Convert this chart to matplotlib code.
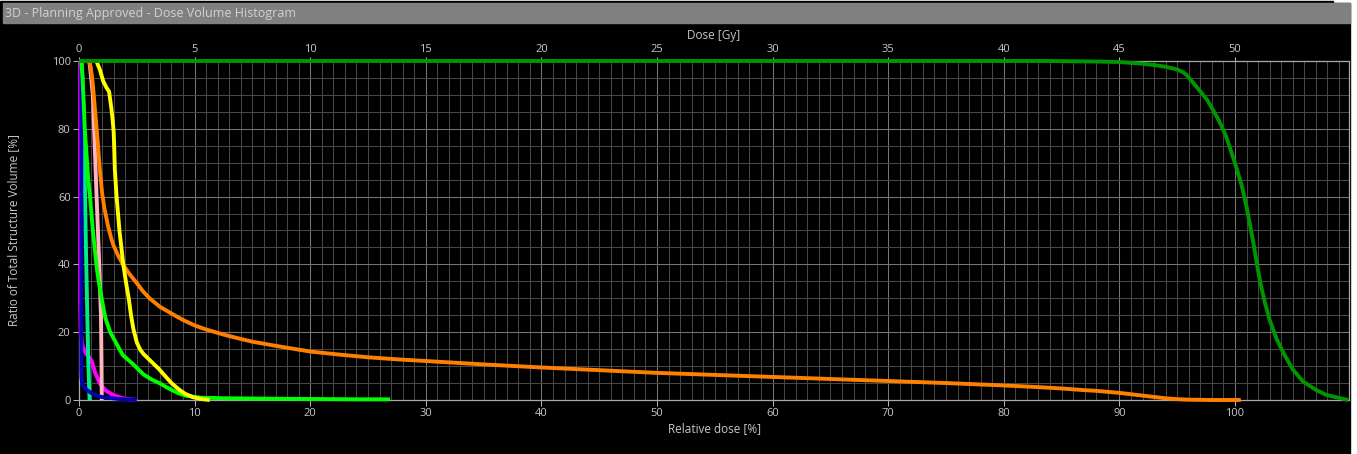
#!/usr/bin/env python3

import matplotlib as mpl
import matplotlib.pyplot as plt
from matplotlib.patches import Rectangle
from matplotlib.ticker import MultipleLocator

mpl.rcParams['font.family'] = ['Open Sans', 'DejaVu Sans']

W, H = 1357, 454

# relative dose [%] / volume [%] per structure
ptv_dose = [0, 20, 40, 60, 84, 88, 90, 92, 93, 94, 95, 95.5, 95.8, 96.4, 97, 97.6, 98.1,
            98.6, 99.2, 99.6, 100, 100.3, 100.6, 101, 101.3, 101.6, 101.9, 102.2, 102.6,
            103.0, 103.6, 104.2, 105, 105.9, 107, 107.9, 109, 109.8]
ptv_vol = [100, 100, 100, 100, 100, 99.85, 99.7, 99.2, 98.8, 98.3, 97.5, 96.7, 95.9, 93.5,
           91, 88.5, 85.5, 82.5, 78, 74, 69.8, 66.5, 63, 57, 51.5, 46.2, 40, 34.4, 28.5,
           23.6, 18, 13.8, 9, 5.4, 3, 1.5, 0.6, 0]

orange_dose = [0.8, 0.9, 1.0, 1.1, 1.2, 1.3, 1.4, 1.5, 1.6, 1.7, 1.8, 1.9, 2.0, 2.2, 2.5,
               2.8, 3.0, 3.4, 3.8, 4.4, 5.0, 5.5, 6.1, 7.0, 8.0, 9.0, 10, 11, 12.5, 14, 15,
               17.5, 20, 22.5, 25, 27.5, 30, 35, 40, 45, 50, 55, 60, 65, 70, 75, 80, 83,
               85, 87, 88, 89, 90, 91, 92, 93, 94, 95, 96, 98, 100.5]
orange_vol = [100, 99.5, 98.5, 96, 93, 89, 85, 81, 77, 72.5, 68, 64.5, 61, 56.5, 51.5,
              47.5, 45.5, 42.5, 40, 37, 34.5, 32.2, 30, 27.5, 25.5, 23.6, 22, 20.8, 19.3,
              18, 17.2, 15.7, 14.3, 13.4, 12.6, 12, 11.5, 10.5, 9.6, 8.8, 8, 7.4, 6.8,
              6.2, 5.6, 5.0, 4.3, 3.8, 3.4, 2.9, 2.7, 2.4, 2.1, 1.7, 1.3, 0.9, 0.5, 0.25,
              0.1, 0, 0]

yellow_dose = [1.5, 1.8, 2.1, 2.4, 2.6, 2.8, 2.9, 3.0, 3.05, 3.1, 3.25, 3.5, 3.83, 4.1,
               4.3, 4.5, 4.7, 5.0, 5.3, 5.6, 6.2, 6.9, 7.6, 8.0, 8.4, 8.8, 9.2, 9.9, 10.6,
               11.3]
yellow_vol = [100, 97.5, 94, 92, 91, 86, 83, 79, 74, 68, 60, 50, 40, 34, 30, 25, 21, 17,
              14.8, 13.5, 11.5, 9.2, 6.5, 5.0, 3.8, 2.7, 1.8, 0.8, 0.3, 0]

green_dose = [0.2, 0.3, 0.4, 0.5, 0.6, 0.7, 0.8, 0.95, 1.1, 1.2, 1.35, 1.5, 1.7, 1.96, 2.15,
              2.3, 2.5, 2.7, 3.1, 3.5, 3.8, 4.2, 4.7, 5.2, 5.6, 6.3, 7.0, 7.5, 8.0, 8.6,
              9.3, 10.5, 12.8, 16, 20, 24, 26.9]
green_vol = [100, 95, 88, 80, 75, 70, 65, 60, 54, 50, 45, 40, 35, 30, 26.5, 24, 22, 20,
             17.5, 15, 13.2, 12, 10.5, 8.8, 7.5, 6, 4.9, 3.9, 3.0, 2, 1.2, 0.7, 0.5, 0.4,
             0.3, 0.2, 0.2]

pink_dose = [0.9, 1.2, 1.5, 1.75, 1.9, 1.95, 1.97]
pink_vol = [100, 90, 62, 40, 25, 10, 0]

spring_dose = [0.25, 0.4, 0.5, 0.6, 0.7, 0.8, 0.88, 0.92]
spring_vol = [100, 85, 65, 45, 28, 12, 3, 0]

magenta_dose = [0.1, 0.1, 0.15, 0.3, 0.55, 0.85, 1.1, 1.4, 1.8, 2.3, 2.95, 3.5, 4.1, 5.0]
magenta_vol = [100, 30, 20, 16, 14, 12.7, 11.5, 8, 4.9, 2.8, 1.5, 0.8, 0.3, 0]

blue_dose = [0.2, 0.2, 0.22, 0.28, 0.37, 0.5, 0.7, 1.0, 1.4, 1.8, 2.4, 2.9, 3.5, 4.0, 5.0]
blue_vol = [100, 9, 6.5, 5, 4.2, 3.5, 2.9, 2.2, 1.5, 1.0, 0.7, 0.5, 0.3, 0.2, 0]

curves = [
    (magenta_dose, magenta_vol, '#ff00ff'),
    (pink_dose, pink_vol, '#ffb4c0'),
    (spring_dose, spring_vol, '#00ee88'),
    (blue_dose, blue_vol, '#0000b4'),
    (green_dose, green_vol, '#00ff00'),
    (orange_dose, orange_vol, '#ff8000'),
    (yellow_dose, yellow_vol, '#ffff00'),
    (ptv_dose, ptv_vol, '#009600'),
]

GY_PER_PCT = 0.5  # 100 % = 50 Gy
TXT = '#c8c8c8'


def px(x, y):
    return x / W, 1 - y / H


fig = plt.figure(figsize=(W / 100, H / 100), dpi=100, facecolor='white')

# window frame: black panel + grey title bar (behind the axes)
fig.patches.append(Rectangle(px(0, 3), 1333 / W, 2.5 / H, transform=fig.transFigure,
                             color='black', zorder=-10))
fig.patches.append(Rectangle(px(0, H), 1350 / W, (H - 3) / H, transform=fig.transFigure,
                             color='black', zorder=-10))
fig.patches.append(Rectangle(px(3, 23), 1347 / W, 20 / H, transform=fig.transFigure,
                             color='#808080', zorder=-9))
fig.text(*px(5, 13), '3D - Planning Approved - Dose Volume Histogram', color='#d2d2d2',
         fontsize=9, ha='left', va='center')

ax = fig.add_axes([79 / W, 1 - 400 / H, 1270 / W, 339 / H], facecolor='black')

for d, v, c in curves:
    ax.plot(d, v, color=c, lw=2.8, solid_capstyle='butt', solid_joinstyle='round',
            clip_on=False, zorder=3)

ax.set_xlim(0, 109.86)
ax.set_ylim(0, 100)
ax.xaxis.set_major_locator(MultipleLocator(10))
ax.xaxis.set_minor_locator(MultipleLocator(1))
ax.yaxis.set_major_locator(MultipleLocator(20))
ax.yaxis.set_minor_locator(MultipleLocator(5))
ax.grid(which='minor', color='#464646', lw=0.75)
ax.grid(which='major', color='#767676', lw=0.75)
ax.set_axisbelow(True)
ax.tick_params(which='major', colors='#b4b4b4', labelcolor=TXT, labelsize=8,
               length=4, width=0.75, pad=2)
ax.tick_params(which='minor', length=0)
for s in ax.spines.values():
    s.set_color('#a8a8a8')
    s.set_linewidth(0.9)

top = ax.secondary_xaxis('top', functions=(lambda x: x * GY_PER_PCT, lambda g: g / GY_PER_PCT))
top.xaxis.set_major_locator(MultipleLocator(5))
top.tick_params(colors='#b4b4b4', labelcolor=TXT, labelsize=8, length=3, width=0.75, pad=1)
top.spines['top'].set_visible(False)

fig.text(*px(714, 35), 'Dose [Gy]', color=TXT, fontsize=8.5, ha='center', va='center')
fig.text(*px(714, 429), 'Relative dose [%]', color=TXT, fontsize=8.5, ha='center', va='center')
fig.text(*px(14, 230), 'Ratio of Total Structure Volume [%]', color=TXT, fontsize=8.5,
         ha='center', va='center', rotation=90)

fig.savefig('out.png', dpi=100, facecolor=fig.get_facecolor())
